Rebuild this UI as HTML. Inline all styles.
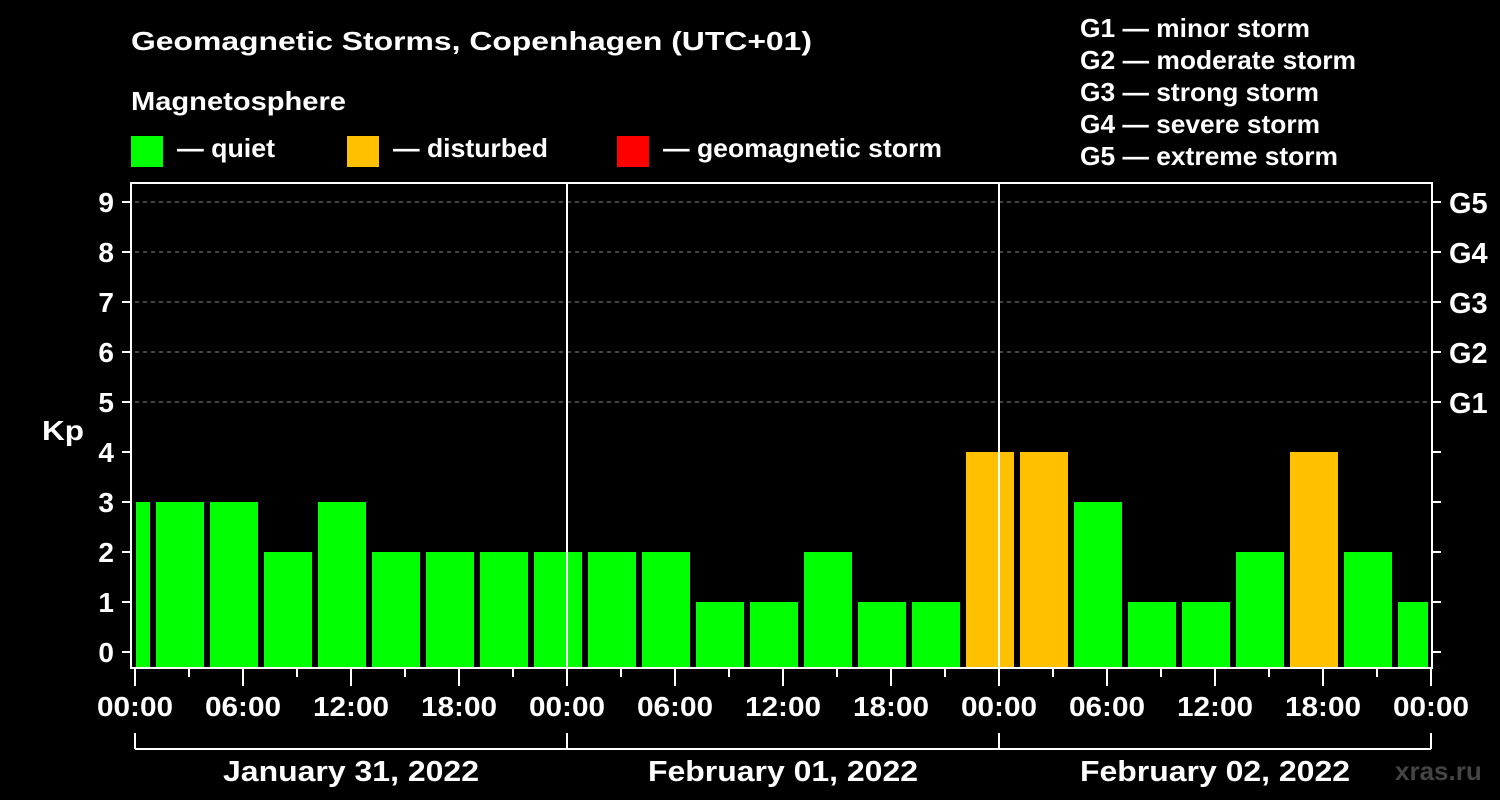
<!DOCTYPE html>
<html><head><meta charset="utf-8"><style>
html,body{margin:0;padding:0;background:#000;}
svg{display:block;font-family:"Liberation Sans",Arial,sans-serif;font-weight:bold;}
</style></head><body>
<svg id="chart" width="1500" height="800" viewBox="0 0 1500 800">
<rect width="1500" height="800" fill="#000"/>
<text x="131" y="50" fill="#fff" font-size="26" textLength="681" lengthAdjust="spacingAndGlyphs">Geomagnetic Storms, Copenhagen (UTC+01)</text>
<text x="131" y="110" fill="#fff" font-size="26" textLength="215" lengthAdjust="spacingAndGlyphs">Magnetosphere</text>
<g><rect x="131" y="136" width="32" height="31" fill="#00ff00"/><text x="177" y="157" fill="#fff" font-size="26" textLength="98" lengthAdjust="spacingAndGlyphs">— quiet</text></g>
<g><rect x="347" y="136" width="32" height="31" fill="#ffc000"/><text x="393" y="157" fill="#fff" font-size="26" textLength="155" lengthAdjust="spacingAndGlyphs">— disturbed</text></g>
<g><rect x="617" y="136" width="32" height="31" fill="#ff0000"/><text x="663" y="157" fill="#fff" font-size="26" textLength="279" lengthAdjust="spacingAndGlyphs">— geomagnetic storm</text></g>
<g fill="#fff" font-size="26">
<text x="1080" y="37" textLength="230" lengthAdjust="spacingAndGlyphs">G1 — minor storm</text>
<text x="1080" y="69" textLength="276" lengthAdjust="spacingAndGlyphs">G2 — moderate storm</text>
<text x="1080" y="101" textLength="239" lengthAdjust="spacingAndGlyphs">G3 — strong storm</text>
<text x="1080" y="133" textLength="240" lengthAdjust="spacingAndGlyphs">G4 — severe storm</text>
<text x="1080" y="165" textLength="258" lengthAdjust="spacingAndGlyphs">G5 — extreme storm</text>
</g>
<text x="42" y="440" fill="#fff" font-size="28" textLength="42" lengthAdjust="spacingAndGlyphs">Kp</text>
<text x="1395" y="780" fill="#444" font-size="26">xras.ru</text>
<g id="grid"></g><g id="bars"></g><g id="axes"></g>
</svg>
<script>
const kpValues=[3,3,3,2,3,2,2,2,2,2,2,1,1,2,1,1,4,4,3,1,1,2,4,2,1];
const barCenterHours=[-0.5,2.5,5.5,8.5,11.5,14.5,17.5,20.5,23.5,26.5,29.5,32.5,35.5,38.5,41.5,44.5,47.5,50.5,53.5,56.5,59.5,62.5,65.5,68.5,71.5];
const timeLabels=["00:00","06:00","12:00","18:00","00:00","06:00","12:00","18:00","00:00","06:00","12:00","18:00","00:00"];
const dayLabels=["January 31, 2022","February 01, 2022","February 02, 2022"];
const gLabels=["G1","G2","G3","G4","G5"];
const yTicks=[0,1,2,3,4,5,6,7,8,9];
const NS="http://www.w3.org/2000/svg";
const X0=135,PXH=18,XL=135,XR=1430,YT=183,YB=668;
const xs=h=>X0+h*PXH, ys=v=>652-v*50;
function mk(tag,attrs,parent,text){const e=document.createElementNS(NS,tag);for(const k in attrs)e.setAttribute(k,attrs[k]);if(text!==undefined)e.textContent=text;parent.appendChild(e);return e;}
const grid=document.getElementById('grid'),bars=document.getElementById('bars'),axes=document.getElementById('axes');
yTicks.forEach(v=>{if(v>=5){const l=mk('line',{x1:XL,x2:XR,y1:ys(v),y2:ys(v),stroke:'#888','stroke-dasharray':'4,4','stroke-width':1},grid);

}});
kpValues.forEach((v,i)=>{const c=barCenterHours[i];let a=xs(c-1.5)+3,b=xs(c+1.5)-3;a=Math.max(a,XL+1);b=Math.min(b,XR-2);
const r=mk('rect',{x:a,y:ys(v),width:b-a,height:YB-1-ys(v),fill:v>=5?'#ff0000':(v>=4?'#ffc000':'#00ff00')},bars);

});
[1,2].forEach(d=>{const l=mk('line',{x1:xs(24*d),x2:xs(24*d),y1:YT,y2:YB,stroke:'#fff','stroke-width':2},axes);

});
const frame=mk('rect',{x:131,y:YT,width:XR+2-131,height:YB-YT,fill:'none',stroke:'#fff','stroke-width':2},axes);


yTicks.forEach(v=>{mk('line',{x1:122,x2:131,y1:ys(v),y2:ys(v),stroke:'#fff','stroke-width':2},axes);
mk('line',{x1:XR+2,x2:XR+11,y1:ys(v),y2:ys(v),stroke:'#fff','stroke-width':2},axes);
const t=mk('text',{x:114,y:ys(v)+10,fill:'#fff','font-size':28,'text-anchor':'end'},axes,String(v));

});
gLabels.forEach((g,i)=>{const t=mk('text',{x:1449,y:ys(i+5)+11,fill:'#fff','font-size':29},axes,g);

});
for(let h=0;h<=72;h+=3){mk('line',{x1:xs(h),x2:xs(h),y1:YB,y2:h%6==0?686:677,stroke:'#fff','stroke-width':2},axes);}
timeLabels.forEach((s,i)=>{const t=mk('text',{x:xs(i*6),y:716,fill:'#fff','font-size':28,'text-anchor':'middle',textLength:76,lengthAdjust:'spacingAndGlyphs'},axes,s);

});
mk('line',{x1:xs(0),x2:xs(72),y1:749,y2:749,stroke:'#fff','stroke-width':2},axes);
[0,1,2,3].forEach(d=>mk('line',{x1:xs(24*d),x2:xs(24*d),y1:733,y2:749,stroke:'#fff','stroke-width':2},axes));
const dayW=[256,270,270];
dayLabels.forEach((s,i)=>{const t=mk('text',{x:xs(24*i+12),y:781,fill:'#fff','font-size':29,'text-anchor':'middle',textLength:dayW[i],lengthAdjust:'spacingAndGlyphs'},axes,s);

});
</script>
</body></html>
